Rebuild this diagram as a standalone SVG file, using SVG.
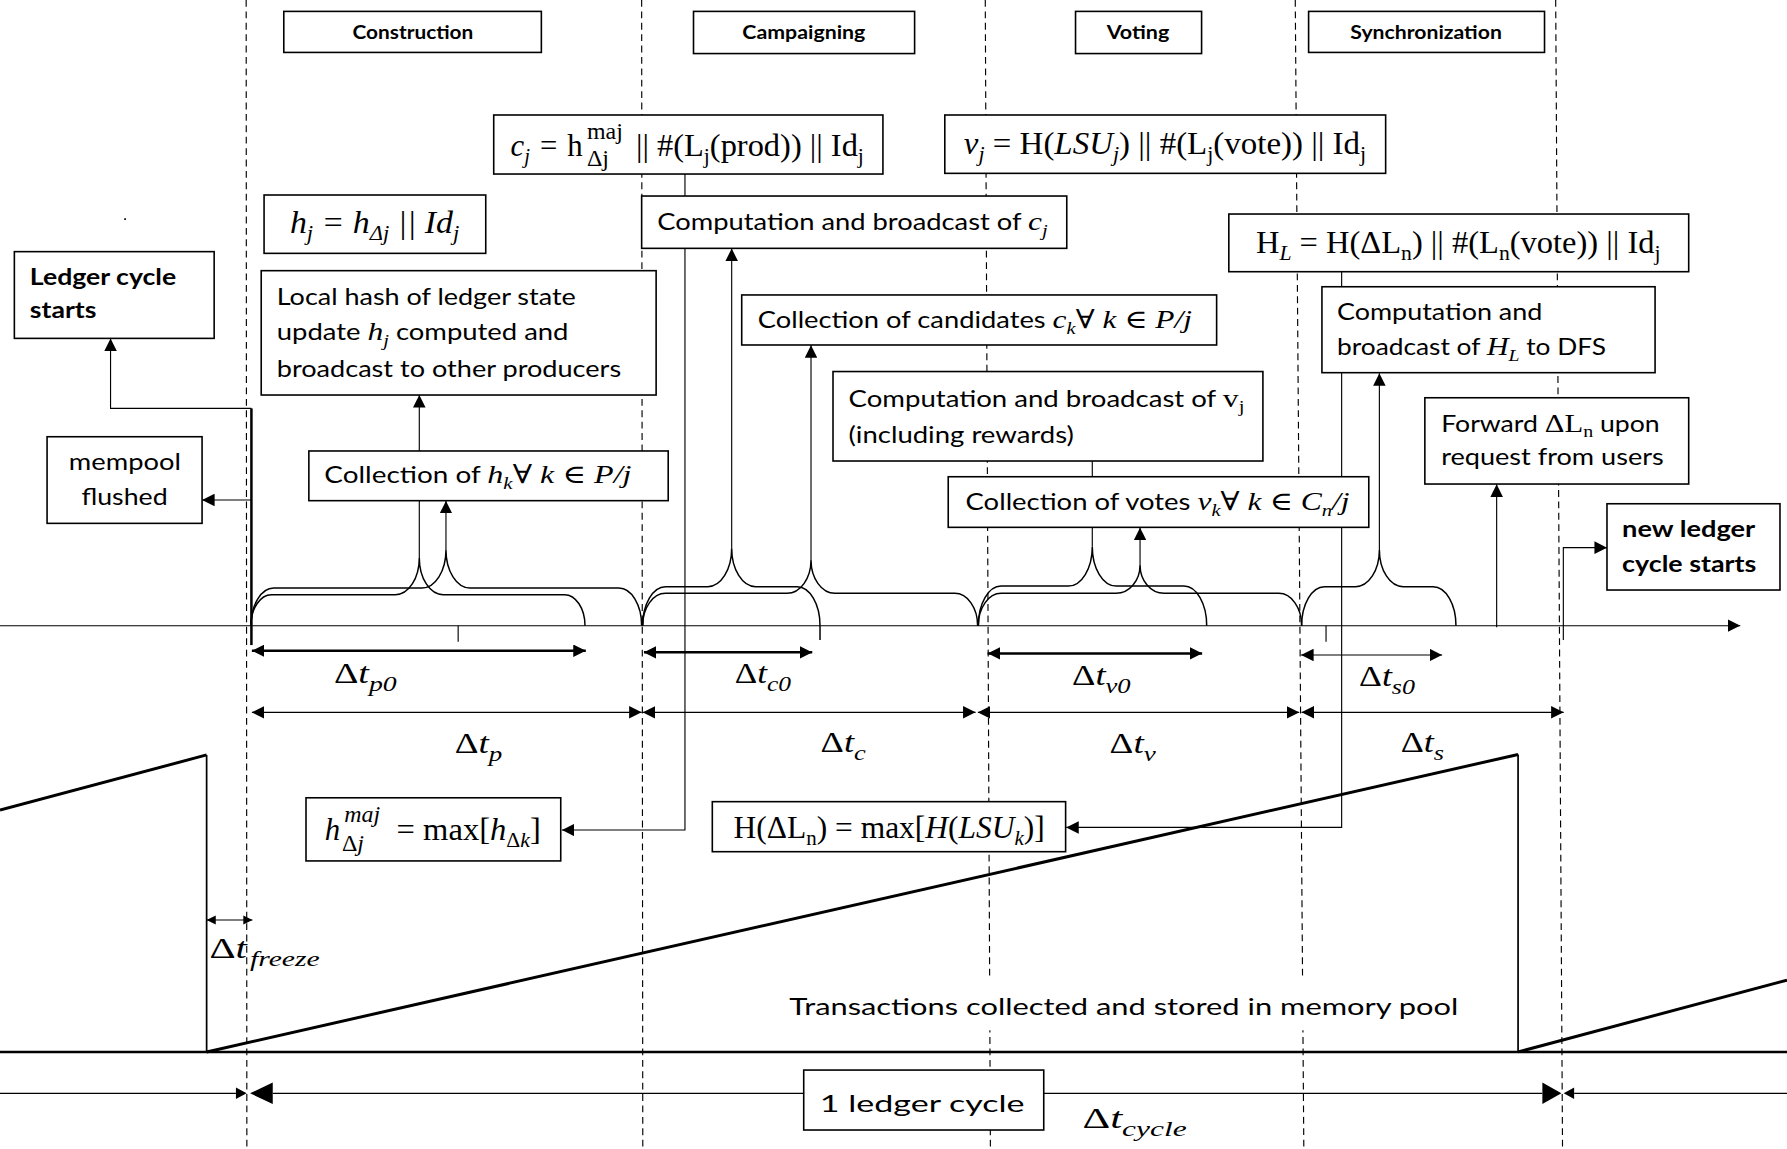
<svg xmlns="http://www.w3.org/2000/svg" width="1787" height="1149" viewBox="0 0 1787 1149">
<style>
.t{font-family:Lato,"Liberation Sans",sans-serif;font-size:20px;fill:#000}
.bt{font-family:Lato,"Liberation Sans",sans-serif;font-size:20px;font-weight:bold;fill:#000}
.ph{font-family:Lato,"Liberation Sans",sans-serif;font-size:17px;font-weight:bold;fill:#000}
.m{font-family:"Liberation Serif","DejaVu Serif",serif;font-size:27px;fill:#000}
.mi{font-family:"Liberation Serif","DejaVu Serif",serif;font-style:italic}
.sv{font-family:"Liberation Serif","DejaVu Serif",serif}
.box{fill:#fff;stroke:#000;stroke-width:1.4}
.dash{stroke:#000;stroke-width:1;stroke-dasharray:6 4;fill:none}
.ln{stroke:#000;stroke-width:1;fill:none}
.thk{stroke:#000;stroke-width:2.2;fill:none}
.br{stroke:#000;stroke-width:1.3;fill:none}
.saw{stroke:#000;stroke-width:2.6;fill:none}
</style>
<defs>
<marker id="ah" viewBox="0 0 10 10" refX="10" refY="5" markerWidth="11" markerHeight="11" markerUnits="userSpaceOnUse" orient="auto-start-reverse"><path d="M0,0L10,5L0,10z" fill="#000"/></marker>
<marker id="ahs" viewBox="0 0 10 10" refX="10" refY="5" markerWidth="8" markerHeight="8" markerUnits="userSpaceOnUse" orient="auto-start-reverse"><path d="M0,0L10,5L0,10z" fill="#000"/></marker>
</defs>
<rect x="0" y="0" width="1787" height="1149" fill="#fff"/>
<g transform="scale(1.1397)">
<g id="phase-dividers">
<line class="dash" x1="216" y1="0" x2="216.6" y2="1008"/>
<line class="dash" x1="563" y1="0" x2="564" y2="1008"/>
<line class="dash" x1="864.5" y1="0" x2="869" y2="1008"/>
<line class="dash" x1="1136.5" y1="0" x2="1144" y2="1008"/>
<line class="dash" x1="1365" y1="0" x2="1371" y2="1008"/>
</g>
<g id="mempool-sawtooth">
<polyline class="saw" points="0,710.7 181.3,662.4"/>
<line stroke="#000" stroke-width="1.5" x1="181.3" y1="662.4" x2="181.3" y2="923"/>
<line stroke="#000" stroke-width="2.3" x1="0" y1="923" x2="1568" y2="923"/>
<polyline class="saw" points="181.3,923 1332,662"/>
<line stroke="#000" stroke-width="1.5" x1="1332" y1="662" x2="1332" y2="923"/>
<polyline class="saw" points="1332,923 1568,860"/>
<rect x="688" y="858" width="597" height="46" fill="#fff"/>
<text class="t" x="692.6" y="890.6" font-size="25" textLength="587" lengthAdjust="spacingAndGlyphs">Transactions collected and stored in memory pool</text>
</g>
<g id="braces">
<path class="br" d="M220.2,549 A20,33.1 0 0 1 240.2,515.9 L370.3,515.9 A21,33.3 0 0 0 391.3,482.6 A21,33.3 0 0 0 412.3,515.9 L543,515.9 A20,33.1 0 0 1 563,549"/>
<path class="br" d="M220.2,549 A18,27.2 0 0 1 238.2,521.8 L346.9,521.8 A21,32.2 0 0 0 367.9,489.6 A21,32.2 0 0 0 388.9,521.8 L495.3,521.8 A18,27.2 0 0 1 513.3,549"/>
<path class="br" d="M563.9,549 A20,34.2 0 0 1 583.9,514.8 L621,514.8 A21,33.7 0 0 0 642,481.1 A21,33.7 0 0 0 663,514.8 L699.5,514.8 A20,34.2 0 0 1 719.5,549 L719.5,561.6"/>
<path class="br" d="M563.9,549 A20,28.4 0 0 1 583.9,520.6 L690.6,520.6 A21,29.2 0 0 0 711.6,491.4 A21,29.2 0 0 0 732.6,520.6 L837.8,520.6 A20,28.4 0 0 1 857.8,549"/>
<path class="br" d="M858.4,549 A20,34.8 0 0 1 878.4,514.2 L937.4,514.2 A21,34.5 0 0 0 958.4,479.7 A21,34.5 0 0 0 979.4,514.2 L1038.8,514.2 A20,34.8 0 0 1 1058.8,549"/>
<path class="br" d="M858.4,549 A20,28.4 0 0 1 878.4,520.6 L979.3,520.6 A21,24.9 0 0 0 1000.3,495.7 A21,24.9 0 0 0 1021.3,520.6 L1122.1,520.6 A20,28.4 0 0 1 1142.1,549"/>
<path class="br" d="M1142.1,549 A20,34.2 0 0 1 1162.1,514.8 L1189.3,514.8 A21,32.2 0 0 0 1210.3,482.6 A21,32.2 0 0 0 1231.3,514.8 L1257.5,514.8 A20,34.2 0 0 1 1277.5,549"/>
</g>
<g id="connectors">
<line class="ln" x1="0" y1="549" x2="1527" y2="549" marker-end="url(#ah)"/>
<line class="ln" x1="402" y1="549" x2="402" y2="563"/>
<line class="ln" x1="1163.5" y1="549" x2="1163.5" y2="563"/>
<line class="thk" x1="220.6" y1="358.3" x2="220.6" y2="566"/>
<polyline class="ln" points="220.6,358.3 97,358.3 97,297" marker-end="url(#ah)"/>
<line class="ln" x1="220.6" y1="438.7" x2="177.3" y2="438.7" marker-end="url(#ah)"/>
<line class="ln" x1="367.9" y1="489.6" x2="367.9" y2="346.6" marker-end="url(#ah)"/>
<line class="ln" x1="391.3" y1="482.6" x2="391.3" y2="439.5" marker-end="url(#ah)"/>
<polyline class="ln" stroke-width="1.3" points="601,152.7 601,728.3 493,728.3" marker-end="url(#ah)"/>
<line class="ln" x1="642" y1="481.1" x2="642" y2="218" marker-end="url(#ah)"/>
<line class="ln" x1="711.6" y1="491.4" x2="711.6" y2="303" marker-end="url(#ah)"/>
<line class="ln" x1="958.4" y1="479.7" x2="958.4" y2="404.5"/>
<line class="ln" x1="1000.3" y1="495.7" x2="1000.3" y2="463" marker-end="url(#ah)"/>
<polyline class="ln" stroke-width="1.3" points="1177.2,238.4 1177.2,726 935.5,726" marker-end="url(#ah)"/>
<line class="ln" x1="1210.3" y1="482.6" x2="1210.3" y2="327.5" marker-end="url(#ah)"/>
<line class="ln" x1="1313.2" y1="550.4" x2="1313.2" y2="425" marker-end="url(#ah)"/>
<polyline class="ln" points="1371.7,561.6 1371.7,480.5 1410,480.5" marker-end="url(#ah)"/>
<line class="thk" x1="221" y1="571" x2="514" y2="571" marker-start="url(#ah)" marker-end="url(#ah)"/>
<line class="thk" x1="565" y1="572.4" x2="712.7" y2="572.4" marker-start="url(#ah)" marker-end="url(#ah)"/>
<line class="thk" x1="866.5" y1="573.3" x2="1054.8" y2="573.3" marker-start="url(#ah)" marker-end="url(#ah)"/>
<line class="ln" x1="1141.6" y1="574.7" x2="1265.4" y2="574.7" marker-start="url(#ah)" marker-end="url(#ah)"/>
<line class="ln" x1="221" y1="625" x2="563" y2="625" marker-start="url(#ah)" marker-end="url(#ah)"/>
<line class="ln" x1="564" y1="625" x2="856" y2="625" marker-start="url(#ah)" marker-end="url(#ah)"/>
<line class="ln" x1="858" y1="625" x2="1140" y2="625" marker-start="url(#ah)" marker-end="url(#ah)"/>
<line class="ln" x1="1142" y1="625" x2="1372" y2="625" marker-start="url(#ah)" marker-end="url(#ah)"/>
<line class="ln" x1="181.3" y1="807.2" x2="221.5" y2="807.2" marker-start="url(#ahs)" marker-end="url(#ahs)"/>
<line class="ln" x1="0" y1="959.3" x2="207" y2="959.3"/>
<polygon points="207,954.3 216.4,959.3 207,964.3" fill="#000"/>
<polygon points="219.4,959.3 239.3,949.9 239.3,968.7" fill="#000"/>
<line class="ln" x1="239.3" y1="959.3" x2="705" y2="959.3"/>
<line class="ln" x1="915" y1="959.3" x2="1353.3" y2="959.3"/>
<polygon points="1353.3,949.9 1370,959.3 1353.3,968.7" fill="#000"/>
<polygon points="1372,959.3 1381.2,954.3 1381.2,964.3" fill="#000"/>
<line class="ln" x1="1381.2" y1="959.3" x2="1568" y2="959.3"/>
</g>
<g id="n-construction"><rect class="box" x="249" y="10" width="226" height="36"/><text class="ph" x="309.3" y="34.5" textLength="106" lengthAdjust="spacingAndGlyphs">Construction</text></g>
<g id="n-campaigning"><rect class="box" x="608.5" y="10" width="194" height="37"/><text class="ph" x="651.3" y="34.5" textLength="108" lengthAdjust="spacingAndGlyphs">Campaigning</text></g>
<g id="n-voting"><rect class="box" x="943.7" y="10" width="110.6" height="37"/><text class="ph" x="971" y="34.5" textLength="55" lengthAdjust="spacingAndGlyphs">Voting</text></g>
<g id="n-synchronization"><rect class="box" x="1148.2" y="10" width="207" height="36"/><text class="ph" x="1184.8" y="34.5" textLength="133" lengthAdjust="spacingAndGlyphs">Synchronization</text></g>
<g id="n-cj">
<rect class="box" x="433.2" y="100.9" width="341.5" height="51.8"/>
<text class="m" x="448" y="137"><tspan class="mi">c</tspan><tspan class="mi" font-size="18" dy="6">j</tspan><tspan dy="-6" dx="2"> = </tspan><tspan dx="2">h</tspan><tspan x="515" y="122" style="font-size:21px">maj</tspan><tspan x="515" y="146" style="font-size:21px">Δj</tspan><tspan x="558" y="137" textLength="200" lengthAdjust="spacingAndGlyphs" style="font-size:27px">|| #(L<tspan font-size="18" dy="6">j</tspan><tspan dy="-6">(prod)) || Id</tspan><tspan font-size="18" dy="6">j</tspan></tspan></text>
</g>
<g id="n-vj">
<rect class="box" x="829" y="100.9" width="386.8" height="51.2"/>
<text class="m" x="845.7" y="135.5" textLength="353" lengthAdjust="spacingAndGlyphs"><tspan class="mi">v</tspan><tspan class="mi" font-size="18" dy="6">j</tspan><tspan dy="-6"> = H(</tspan><tspan class="mi">LSU</tspan><tspan class="mi" font-size="18" dy="6">j</tspan><tspan dy="-6">) || #(L</tspan><tspan font-size="18" dy="6">j</tspan><tspan dy="-6">(vote)) || Id</tspan><tspan font-size="18" dy="6">j</tspan></text>
</g>
<g id="n-hj">
<rect class="box" x="231.7" y="171.1" width="194.5" height="51.2"/>
<text class="m mi" x="254.4" y="204.7" textLength="148.6" lengthAdjust="spacingAndGlyphs">h<tspan font-size="18" dy="6">j</tspan><tspan dy="-6"> = h</tspan><tspan font-size="18" dy="6">Δj</tspan><tspan dy="-6"> || Id</tspan><tspan font-size="18" dy="6">j</tspan></text>
</g>
<g id="n-hl">
<rect class="box" x="1078.2" y="187.8" width="403.5" height="50.6"/>
<text class="m" x="1102" y="222.3" textLength="355" lengthAdjust="spacingAndGlyphs">H<tspan class="mi" font-size="18" dy="6">L</tspan><tspan dy="-6"> = H(ΔL</tspan><tspan font-size="18" dy="6">n</tspan><tspan dy="-6">) || #(L</tspan><tspan font-size="18" dy="6">n</tspan><tspan dy="-6">(vote)) || Id</tspan><tspan font-size="18" dy="6">j</tspan></text>
</g>
<g id="n-comp-cj">
<rect class="box" x="563" y="172" width="373" height="45.9"/>
<text class="t" x="576.7" y="201.8" textLength="342.6" lengthAdjust="spacingAndGlyphs">Computation and broadcast of <tspan class="mi" font-size="23">c</tspan><tspan class="mi" font-size="15" dy="5">j</tspan></text>
</g>
<g id="n-ledger-start">
<rect class="box" x="12.6" y="220.8" width="175.3" height="76.1"/>
<text class="bt" x="26.2" y="250" textLength="128.4" lengthAdjust="spacingAndGlyphs">Ledger cycle</text>
<text class="bt" x="26.2" y="279.3" textLength="58.4" lengthAdjust="spacingAndGlyphs">starts</text>
</g>
<g id="n-local-hash">
<rect class="box" x="229.2" y="237.5" width="346.5" height="109.1"/>
<text class="t" x="242.8" y="267.6" textLength="262.4" lengthAdjust="spacingAndGlyphs">Local hash of ledger state</text>
<text class="t" x="242.8" y="298.3" textLength="256" lengthAdjust="spacingAndGlyphs">update <tspan class="mi" font-size="23">h</tspan><tspan class="mi" font-size="15" dy="5">j</tspan><tspan dy="-5"> computed and</tspan></text>
<text class="t" x="242.8" y="330.5" textLength="302.2" lengthAdjust="spacingAndGlyphs">broadcast to other producers</text>
</g>
<g id="n-candidates">
<rect class="box" x="650.8" y="258.8" width="416.7" height="43.9"/>
<text class="t" x="664.9" y="288.1" textLength="381" lengthAdjust="spacingAndGlyphs">Collection of candidates <tspan class="mi" font-size="23">c</tspan><tspan class="mi" font-size="15" dy="5">k</tspan><tspan class="sv" font-size="23" dy="-5">∀ </tspan><tspan class="mi" font-size="23">k</tspan><tspan class="sv" font-size="23"> ∈ </tspan><tspan class="mi" font-size="23">P/j</tspan></text>
</g>
<g id="n-comp-hl">
<rect class="box" x="1159.9" y="251.6" width="292.3" height="75.4"/>
<text class="t" x="1173.1" y="280.8" textLength="180.2" lengthAdjust="spacingAndGlyphs">Computation and</text>
<text class="t" x="1173.1" y="311.5" textLength="236" lengthAdjust="spacingAndGlyphs">broadcast of <tspan class="mi" font-size="23">H</tspan><tspan class="mi" font-size="15" dy="5">L</tspan><tspan dy="-5"> to DFS</tspan></text>
</g>
<g id="n-comp-vj">
<rect class="box" x="730.9" y="326" width="377.2" height="78.5"/>
<text class="t" x="744.5" y="356.8" textLength="347.4" lengthAdjust="spacingAndGlyphs">Computation and broadcast of  <tspan class="sv" font-size="23">v</tspan><tspan class="sv" font-size="15" dy="5">j</tspan></text>
<text class="t" x="744.5" y="389" textLength="197.7" lengthAdjust="spacingAndGlyphs">(including rewards)</text>
</g>
<g id="n-mempool">
<rect class="box" x="41.3" y="383.2" width="136" height="76"/>
<text class="t" x="60.4" y="412.4" textLength="98.3" lengthAdjust="spacingAndGlyphs">mempool</text>
<text class="t" x="71.5" y="443.1" textLength="75.6" lengthAdjust="spacingAndGlyphs">flushed</text>
</g>
<g id="n-collect-hk">
<rect class="box" x="271" y="395.7" width="315.3" height="43.6"/>
<text class="t" x="284.6" y="424.1" textLength="269.5" lengthAdjust="spacingAndGlyphs">Collection of <tspan class="mi" font-size="23">h</tspan><tspan class="mi" font-size="15" dy="5">k</tspan><tspan class="sv" font-size="23" dy="-5">∀ </tspan><tspan class="mi" font-size="23">k</tspan><tspan class="sv" font-size="23"> ∈ </tspan><tspan class="mi" font-size="23">P/j</tspan></text>
</g>
<g id="n-collect-votes">
<rect class="box" x="832" y="418.3" width="369" height="44.4"/>
<text class="t" x="847.2" y="447.5" textLength="337" lengthAdjust="spacingAndGlyphs">Collection of votes <tspan class="mi" font-size="23">v</tspan><tspan class="mi" font-size="15" dy="5">k</tspan><tspan class="sv" font-size="23" dy="-5">∀ </tspan><tspan class="mi" font-size="23">k</tspan><tspan class="sv" font-size="23"> ∈ </tspan><tspan class="mi" font-size="23">C</tspan><tspan class="mi" font-size="15" dy="5">n</tspan><tspan class="mi" font-size="23" dy="-5">/j</tspan></text>
</g>
<g id="n-forward">
<rect class="box" x="1250.2" y="349" width="231.5" height="75.7"/>
<text class="t" x="1264.5" y="378.8" textLength="191.8" lengthAdjust="spacingAndGlyphs">Forward <tspan class="sv" font-size="23">ΔL</tspan><tspan class="sv" font-size="15" dy="5">n</tspan><tspan dy="-5"> upon</tspan></text>
<text class="t" x="1264.5" y="408" textLength="195.3" lengthAdjust="spacingAndGlyphs">request from users</text>
</g>
<g id="n-new-ledger">
<rect class="box" x="1410" y="442" width="151.8" height="75.7"/>
<text class="bt" x="1423.3" y="470.9" textLength="116.8" lengthAdjust="spacingAndGlyphs">new ledger</text>
<text class="bt" x="1423.3" y="501.6" textLength="117.8" lengthAdjust="spacingAndGlyphs">cycle starts</text>
</g>
<g id="n-hmaj">
<rect class="box" x="268.5" y="700" width="223.5" height="55.4"/>
<text class="m" x="285" y="737"><tspan class="mi" style="font-size:27px">h</tspan><tspan class="mi" x="302" y="721" style="font-size:21px">maj</tspan><tspan x="300" y="747" style="font-size:21px">Δ</tspan><tspan class="mi" style="font-size:21px">j</tspan><tspan x="348" y="737" textLength="126.5" lengthAdjust="spacingAndGlyphs" style="font-size:27px">= max[<tspan class="mi">h</tspan><tspan font-size="18" dy="6">Δ</tspan><tspan class="mi" font-size="18">k</tspan><tspan dy="-6">]</tspan></tspan></text>
</g>
<g id="n-hdl">
<rect class="box" x="625" y="703.4" width="310" height="43.9"/>
<text class="m" x="643.7" y="735.6" textLength="273" lengthAdjust="spacingAndGlyphs">H(ΔL<tspan font-size="18" dy="6">n</tspan><tspan dy="-6">) = max[</tspan><tspan class="mi">H</tspan>(<tspan class="mi">LSU</tspan><tspan class="mi" font-size="18" dy="6">k</tspan><tspan dy="-6">)]</tspan></text>
</g>
<g id="n-cycle">
<rect class="box" x="705.2" y="938.9" width="210.6" height="52.6"/>
<text class="t" x="719.3" y="975.4" font-size="28" textLength="179.7" lengthAdjust="spacingAndGlyphs">1 ledger cycle</text>
</g>
<g id="interval-labels" class="m" font-size="26">
<text x="293" y="599.6" font-size="26" textLength="55" lengthAdjust="spacingAndGlyphs">Δ<tspan class="mi">t</tspan><tspan class="mi" font-size="19" dy="7">p0</tspan></text>
<text x="644.7" y="599.6" font-size="26" textLength="49.3" lengthAdjust="spacingAndGlyphs">Δ<tspan class="mi">t</tspan><tspan class="mi" font-size="19" dy="7">c0</tspan></text>
<text x="940.6" y="601" font-size="26" textLength="51.4" lengthAdjust="spacingAndGlyphs">Δ<tspan class="mi">t</tspan><tspan class="mi" font-size="19" dy="7">v0</tspan></text>
<text x="1192.5" y="602" font-size="26" textLength="49" lengthAdjust="spacingAndGlyphs">Δ<tspan class="mi">t</tspan><tspan class="mi" font-size="19" dy="7">s0</tspan></text>
<text x="399" y="660.4" font-size="26" textLength="41.7" lengthAdjust="spacingAndGlyphs">Δ<tspan class="mi">t</tspan><tspan class="mi" font-size="19" dy="7">p</tspan></text>
<text x="720" y="659.5" font-size="26" textLength="39.6" lengthAdjust="spacingAndGlyphs">Δ<tspan class="mi">t</tspan><tspan class="mi" font-size="19" dy="7">c</tspan></text>
<text x="973.6" y="660.4" font-size="26" textLength="40.4" lengthAdjust="spacingAndGlyphs">Δ<tspan class="mi">t</tspan><tspan class="mi" font-size="19" dy="7">v</tspan></text>
<text x="1229" y="659.5" font-size="26" textLength="38" lengthAdjust="spacingAndGlyphs">Δ<tspan class="mi">t</tspan><tspan class="mi" font-size="19" dy="7">s</tspan></text>
<text x="183.8" y="840.9" font-size="26" textLength="96.7" lengthAdjust="spacingAndGlyphs">Δ<tspan class="mi">t</tspan><tspan class="mi" font-size="19" dx="2" dy="7">freeze</tspan></text>
<text x="949.8" y="990" font-size="26" textLength="91.4" lengthAdjust="spacingAndGlyphs">Δ<tspan class="mi">t</tspan><tspan class="mi" font-size="19" dy="7">cycle</tspan></text>
</g>
<rect x="109" y="191.5" width="1.5" height="1.5" fill="#000"/>
</g>
</svg>
